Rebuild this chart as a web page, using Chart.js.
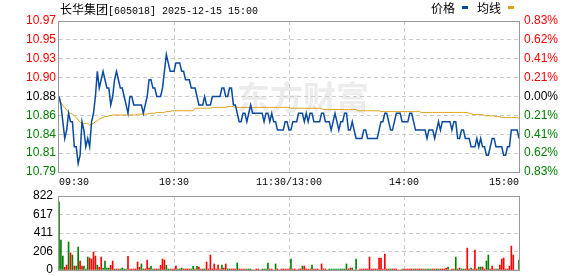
<!DOCTYPE html>
<html>
<head>
<meta charset="utf-8">
<script src="https://cdn.jsdelivr.net/npm/chart.js@4.4.1/dist/chart.umd.min.js"></script>
<style>
  html, body { margin: 0; padding: 0; background: #fff; }
  #wrap { position: relative; width: 578px; height: 276px; overflow: hidden; }
  canvas { position: absolute; left: 0; }
  #priceChart { top: 0; }
  #volChart { top: 182px; }
  .txt { position: absolute; white-space: nowrap; color: #000; }
  .cjk { font: 12px "Noto Sans CJK SC", sans-serif; }
  .mono { font: 10px "Liberation Mono", monospace; }
  .dash { position: absolute; width: 6px; height: 3px; }
</style>
</head>
<body>
<div id="wrap">
  <canvas id="priceChart" width="578" height="195"></canvas>
  <canvas id="volChart" width="578" height="110"></canvas>
  <div class="txt" style="left:60px; top:0px; line-height:16px;"><span class="cjk">长华集团</span><span class="mono">[605018] 2025-12-15 15:00</span></div>
  <div class="txt cjk" style="left:431px; top:0px; line-height:16px;">价格</div>
  <div class="dash" style="left:462px; top:6px; background:#0a4aa0;"></div>
  <div class="txt cjk" style="left:477px; top:0px; line-height:16px;">均线</div>
  <div class="dash" style="left:508px; top:6px; background:#e0a010;"></div>
</div>
<script>
/* ===========================
   Intraday chart — price / average / volume
   =========================== */

const timeLabels = ['09:30', '10:30', '11:30/13:00', '14:00', '15:00'];
const timeTickIdx = [0, 60, 120, 180, 240];

const priceTickLabels = ['10.97', '10.95', '10.93', '10.90', '10.88', '10.86', '10.84', '10.81', '10.79'];
const pctTickLabels = ['0.83%', '0.62%', '0.41%', '0.21%', '0.00%', '0.21%', '0.41%', '0.62%', '0.83%'];
const volTickLabels = ['822', '617', '411', '206', '0'];

const priceMin = 10.79;
const priceMax = 10.97;
const volMax = 822;

// one value per minute, 09:30 .. 11:30, 13:01 .. 15:00
const prices = [
  10.88,10.87,10.85,10.83,10.84,10.86,10.85,10.85,10.82,10.82,
  10.80,10.81,10.85,10.84,10.82,10.83,10.82,10.85,10.86,10.88,
  10.91,10.89,10.90,10.91,10.90,10.89,10.89,10.87,10.88,10.90,
  10.91,10.90,10.89,10.89,10.88,10.87,10.86,10.88,10.88,10.87,
  10.87,10.87,10.87,10.87,10.86,10.87,10.88,10.90,10.90,10.89,
  10.89,10.88,10.88,10.88,10.89,10.91,10.93,10.92,10.91,10.91,
  10.91,10.92,10.92,10.92,10.91,10.91,10.90,10.90,10.90,10.89,
  10.89,10.89,10.88,10.87,10.87,10.87,10.88,10.87,10.87,10.87,
  10.88,10.88,10.88,10.88,10.88,10.89,10.89,10.88,10.88,10.89,
  10.89,10.87,10.87,10.86,10.85,10.85,10.86,10.86,10.85,10.86,
  10.87,10.86,10.86,10.86,10.86,10.86,10.86,10.85,10.86,10.86,
  10.85,10.86,10.85,10.85,10.84,10.84,10.84,10.84,10.85,10.85,
  10.84,10.84,10.85,10.85,10.85,10.86,10.86,10.86,10.85,10.86,
  10.85,10.86,10.86,10.85,10.85,10.85,10.85,10.86,10.86,10.85,
  10.85,10.85,10.84,10.85,10.86,10.85,10.84,10.85,10.85,10.86,
  10.86,10.84,10.84,10.85,10.84,10.83,10.83,10.83,10.83,10.84,
  10.84,10.83,10.83,10.83,10.83,10.83,10.83,10.84,10.85,10.85,
  10.86,10.86,10.85,10.84,10.84,10.85,10.86,10.86,10.86,10.85,
  10.85,10.85,10.85,10.86,10.86,10.85,10.84,10.84,10.84,10.84,
  10.84,10.84,10.83,10.84,10.84,10.84,10.83,10.84,10.85,10.84,
  10.85,10.85,10.85,10.85,10.85,10.84,10.85,10.85,10.83,10.83,
  10.84,10.84,10.83,10.83,10.83,10.82,10.82,10.82,10.83,10.82,
  10.83,10.82,10.82,10.81,10.81,10.82,10.83,10.83,10.82,10.82,
  10.82,10.82,10.81,10.81,10.82,10.82,10.84,10.84,10.84,10.84,
  10.83
];

const avgPrices = [
  10.880,10.873,10.869,10.867,10.864,10.861,10.860,10.859,10.857,10.855,
  10.852,10.849,10.848,10.848,10.848,10.848,10.846,10.847,10.848,10.850,
  10.851,10.853,10.854,10.855,10.856,10.856,10.857,10.857,10.858,10.858,
  10.858,10.858,10.858,10.858,10.858,10.858,10.858,10.858,10.858,10.858,
  10.858,10.859,10.859,10.859,10.859,10.859,10.859,10.860,10.860,10.860,
  10.860,10.861,10.861,10.861,10.861,10.861,10.862,10.862,10.862,10.863,
  10.863,10.863,10.863,10.863,10.863,10.863,10.863,10.863,10.863,10.863,
  10.863,10.866,10.866,10.866,10.866,10.866,10.866,10.866,10.866,10.866,
  10.867,10.867,10.867,10.867,10.867,10.867,10.867,10.867,10.868,10.868,
  10.868,10.868,10.867,10.867,10.867,10.867,10.867,10.867,10.867,10.867,
  10.867,10.867,10.867,10.867,10.867,10.867,10.867,10.867,10.867,10.867,
  10.867,10.867,10.867,10.867,10.867,10.867,10.867,10.867,10.867,10.867,
  10.867,10.866,10.866,10.866,10.866,10.866,10.866,10.866,10.866,10.866,
  10.866,10.866,10.866,10.866,10.866,10.866,10.866,10.866,10.8645,10.8645,
  10.8645,10.8645,10.8645,10.8645,10.8645,10.8645,10.8645,10.8645,10.8645,10.8645,
  10.8645,10.8645,10.8645,10.8645,10.8645,10.8645,10.863,10.863,10.863,10.863,
  10.863,10.863,10.863,10.863,10.863,10.863,10.863,10.863,10.862,10.862,
  10.862,10.862,10.862,10.862,10.862,10.862,10.862,10.862,10.862,10.862,
  10.862,10.862,10.862,10.862,10.862,10.862,10.862,10.862,10.862,10.861,
  10.861,10.861,10.861,10.861,10.861,10.861,10.861,10.861,10.861,10.861,
  10.861,10.861,10.861,10.861,10.861,10.861,10.861,10.861,10.861,10.861,
  10.861,10.861,10.861,10.861,10.860,10.8595,10.8585,10.8585,10.8585,10.8585,
  10.8585,10.8585,10.857,10.857,10.857,10.857,10.857,10.857,10.856,10.856,
  10.856,10.855,10.855,10.855,10.855,10.855,10.855,10.855,10.855,10.855,
  10.854
];

const volumes = [
  755,333,155,30,55,311,189,166,44,44,
  255,100,44,44,11,144,133,122,200,155,
  55,30,144,22,100,22,22,52,100,11,
  11,11,11,22,11,11,152,11,11,11,
  11,89,30,67,11,11,111,22,41,11,
  11,11,11,52,122,111,52,11,11,11,
  11,44,11,11,22,11,11,11,11,11,
  41,11,41,33,11,11,11,89,11,166,
  11,67,11,55,11,55,22,67,11,11,
  11,11,11,78,11,11,11,11,11,11,
  11,0,0,11,11,0,11,11,11,78,
  11,11,0,67,11,0,11,11,11,11,
  11,122,11,11,0,11,11,44,44,11,
  11,11,55,11,11,11,0,67,11,11,
  0,11,11,11,11,11,11,11,11,11,
  67,11,22,22,0,122,0,11,11,11,
  11,11,144,11,11,11,11,133,133,11,
  178,11,11,11,11,11,11,0,0,11,
  11,11,11,11,11,11,11,11,11,11,
  11,11,11,11,11,11,11,11,11,11,
  11,11,22,33,0,11,11,144,11,22,
  11,11,11,244,11,22,11,222,11,33,
  33,33,11,100,166,11,44,11,11,11,
  55,122,133,11,11,44,266,166,0,0,
  111
];

// 1 = traded up (red), -1 = traded down (green)
const volDir = [
  -1,-1,-1,1,1,-1,1,-1,1,-1,
  -1,1,1,-1,-1,-1,1,1,1,1,
  -1,1,1,-1,-1,-1,-1,1,1,-1,
  1,1,-1,-1,-1,-1,1,1,1,1,
  1,1,1,-1,-1,1,1,1,-1,-1,
  1,1,-1,1,1,1,-1,-1,-1,1,
  1,1,-1,-1,-1,1,1,1,1,-1,
  -1,1,-1,1,1,-1,-1,1,1,1,
  1,1,1,1,1,-1,1,1,-1,-1,
  1,1,1,-1,1,1,1,1,-1,-1,
  -1,1,1,1,1,1,-1,-1,-1,-1,
  1,1,1,-1,1,1,1,1,1,1,
  1,-1,1,1,1,1,1,-1,1,1,
  1,1,-1,1,1,1,1,1,1,1,
  -1,-1,-1,-1,-1,-1,-1,-1,-1,-1,
  -1,1,1,-1,-1,-1,1,1,1,1,
  1,1,1,1,1,1,1,1,1,1,
  1,1,-1,-1,1,1,1,1,1,-1,
  1,1,1,1,1,-1,1,1,1,1,
  -1,1,-1,-1,-1,1,1,-1,-1,1,
  1,1,1,-1,1,1,1,-1,-1,1,
  -1,-1,1,1,1,-1,1,1,1,-1,
  -1,1,1,-1,-1,1,1,1,-1,-1,
  1,1,1,1,1,1,1,1,1,1,
  -1
];

const COLORS = {
  price: '#0a4aa0',
  avg: '#e0a010',
  up: '#ff0000',
  down: '#008000',
  flat: '#000000',
  grid: '#cccccc',
  frame: '#999999',
  watermark: '#ececec',
};

const LABEL_FONT = { family: "'Liberation Sans', Arial, sans-serif", size: 12 };
const TIME_FONT = { family: "'Liberation Mono', monospace", size: 10 };

function evenTicks(scale, count) {
  const ticks = [];
  for (let k = 0; k < count; k++) {
    ticks.push({ value: scale.min + k * (scale.max - scale.min) / (count - 1) });
  }
  scale.ticks = ticks;
}

function sideColor(ctx, count) {
  const k = count - 1 - ctx.index;
  const mid = (count - 1) / 2;
  if (k < mid) return COLORS.up;
  if (k > mid) return COLORS.down;
  return COLORS.flat;
}

const framePlugin = {
  id: 'frame',
  afterDraw(chart) {
    const { ctx, chartArea: a } = chart;
    ctx.save();
    ctx.strokeStyle = COLORS.frame;
    ctx.lineWidth = 1;
    ctx.strokeRect(a.left - 0.5, a.top + 0.5, a.right - a.left + 1, a.bottom - a.top);
    ctx.restore();
  }
};

const watermarkPlugin = {
  id: 'watermark',
  beforeDraw(chart) {
    const { ctx } = chart;
    ctx.save();
    ctx.fillStyle = COLORS.watermark;
    ctx.font = "bold 33px 'Noto Sans CJK SC', sans-serif";
    ctx.textBaseline = 'middle';
    ctx.fillText('东方财富', 237, 97);
    ctx.restore();
  }
};

const xGridColor = c => (c.tick && c.tick.value > 0 && c.tick.value < 240) ? COLORS.grid : 'rgba(0,0,0,0)';

function timeScale(showLabels, height) {
  return {
    type: 'linear',
    min: 0,
    max: 240,
    offset: false,
    afterBuildTicks: s => { s.ticks = timeTickIdx.map(v => ({ value: v })); },
    afterFit: s => { s.height = height; },
    ticks: {
      display: showLabels,
      autoSkip: false,
      maxRotation: 0,
      align: 'inner',
      padding: 4,
      color: '#000',
      font: TIME_FONT,
      callback: (v, i) => timeLabels[i],
    },
    grid: { color: xGridColor, drawTicks: false, offset: false },
    border: { display: false, dash: [4, 3] },
  };
}

// ===== PRICE PANEL =====
new Chart(document.getElementById('priceChart'), {
  type: 'line',
  data: {
    datasets: [
      {
        data: prices.map((v, i) => ({ x: i, y: v })),
        borderColor: COLORS.price,
        borderWidth: 1.5,
        pointRadius: 0,
        tension: 0,
      },
      {
        data: avgPrices.map((v, i) => ({ x: i, y: v })),
        borderColor: COLORS.avg,
        borderWidth: 1,
        pointRadius: 0,
        tension: 0,
      }
    ]
  },
  options: {
    responsive: false,
    animation: false,
    events: [],
    layout: { padding: { top: 21, left: 0, right: 0, bottom: 0 } },
    plugins: { legend: { display: false }, tooltip: { enabled: false } },
    scales: {
      x: timeScale(true, 23),
      y: {
        position: 'left',
        min: priceMin,
        max: priceMax,
        afterBuildTicks: s => evenTicks(s, priceTickLabels.length),
        afterFit: s => { s.width = 59; },
        ticks: {
          padding: 3,
          font: LABEL_FONT,
          color: c => sideColor(c, priceTickLabels.length),
          callback: (v, i) => priceTickLabels[priceTickLabels.length - 1 - i],
        },
        grid: { color: COLORS.grid, drawTicks: false },
        border: { display: false, dash: [4, 3] },
      },
      y2: {
        position: 'right',
        min: priceMin,
        max: priceMax,
        afterBuildTicks: s => evenTicks(s, pctTickLabels.length),
        afterFit: s => { s.width = 59; },
        ticks: {
          padding: 5,
          font: LABEL_FONT,
          color: c => sideColor(c, pctTickLabels.length),
          callback: (v, i) => pctTickLabels[pctTickLabels.length - 1 - i],
        },
        grid: { display: false, drawTicks: false },
        border: { display: false },
      }
    }
  },
  plugins: [watermarkPlugin, framePlugin]
});

// ===== VOLUME PANEL =====
// canvas runs past the page bottom so label overflow does not squeeze the plot
new Chart(document.getElementById('volChart'), {
  type: 'bar',
  data: {
    datasets: [{
      data: volumes.map((v, i) => ({ x: i, y: v })),
      backgroundColor: c => volDir[c.dataIndex] > 0 ? COLORS.up : COLORS.down,
      barThickness: 1,
      borderWidth: 0,
    }]
  },
  options: {
    responsive: false,
    animation: false,
    events: [],
    layout: { padding: { top: 14, left: 0, right: 59, bottom: 0 } },
    plugins: { legend: { display: false }, tooltip: { enabled: false } },
    scales: {
      x: timeScale(false, 22),
      y: {
        position: 'left',
        min: 0,
        max: volMax,
        afterBuildTicks: s => evenTicks(s, volTickLabels.length),
        afterFit: s => { s.width = 59; },
        ticks: {
          padding: 6,
          font: LABEL_FONT,
          color: '#000',
          callback: (v, i) => volTickLabels[volTickLabels.length - 1 - i],
        },
        grid: { color: COLORS.grid, drawTicks: false },
        border: { display: false, dash: [4, 3] },
      }
    }
  },
  plugins: [framePlugin]
});
</script>
</body>
</html>
